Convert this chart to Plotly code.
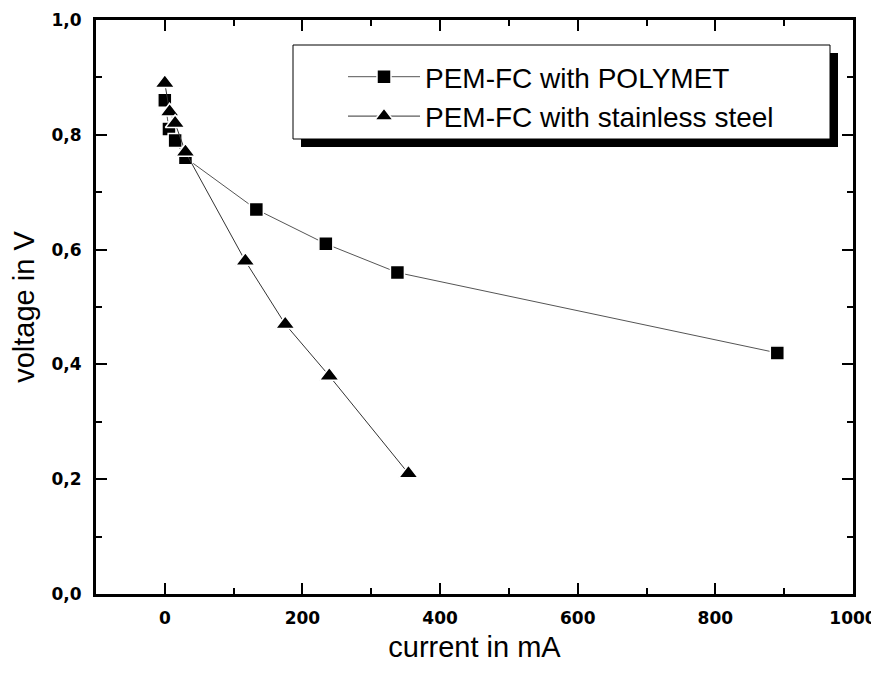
import plotly.graph_objects as go

# ---- data ----
polymet_current = [0, 6, 15, 30, 133, 234, 338, 890]
polymet_voltage = [0.86, 0.81, 0.79, 0.76, 0.67, 0.61, 0.56, 0.42]

steel_current = [0, 7, 15, 30, 117, 175, 239, 354]
steel_voltage = [0.89, 0.84, 0.82, 0.77, 0.58, 0.47, 0.38, 0.21]

series_names = ["PEM-FC with POLYMET", "PEM-FC with stainless steel"]

x_title = "current in mA"
y_title = "voltage in V"

# page has an 8px body margin, so the figure is drawn 8px right/down
OFF = 8
W, H = 879 - OFF, 676 - OFF
PL, PT, PR, PB = 96, 20, 853, 594          # target plot area on screen
ML, MT = PL - OFF, PT - OFF
MR, MB = W - (PR - OFF), H - (PB - OFF)
PW, PH = PR - PL, PB - PT

def px(x):
    return (x - PL) / PW

def py(y):
    return (PB - y) / PH

fig = go.Figure()
fig.add_trace(go.Scatter(
    x=polymet_current, y=polymet_voltage, name=series_names[0],
    mode="lines+markers", legendgroup="a",
    line=dict(color="#555555", width=1),
    marker=dict(symbol="square", size=14, color="black",
                line=dict(color="white", width=1.5)),
))
fig.add_trace(go.Scatter(
    x=steel_current, y=steel_voltage, name=series_names[1],
    mode="lines+markers", legendgroup="b",
    line=dict(color="#333333", width=1),
    marker=dict(symbol="triangle-up", size=17, color="black",
                line=dict(color="white", width=1.5)),
))

tickfont = dict(family="DejaVu Sans, Liberation Sans, Arial", size=17, color="black", weight=700)
titlefont = dict(family="Liberation Sans, Arial", size=29, color="black")
axis_common = dict(
    showline=True, linewidth=3, linecolor="black", mirror="allticks",
    ticks="inside", ticklen=11, tickwidth=2, tickcolor="black",
    showgrid=False, zeroline=False, tickfont=tickfont, automargin=False,
)

fig.update_xaxes(
    range=[-100, 1000], tick0=0, dtick=200,
    minor=dict(dtick=100, tick0=0, ticks="inside", ticklen=6, tickwidth=2,
               tickcolor="black", showgrid=False),
    ticklabelstandoff=7,
    title=dict(text=x_title, standoff=10, font=titlefont),
    **axis_common,
)
fig.update_yaxes(
    range=[0, 1.0], tick0=0, dtick=0.2, tickformat=".1f",
    minor=dict(dtick=0.1, tick0=0, ticks="inside", ticklen=6, tickwidth=2,
               tickcolor="black", showgrid=False),
    ticklabelstandoff=8,
    title=dict(text=y_title, standoff=11, font=titlefont),
    **axis_common,
)

# legend box with drop shadow
bx0, bx1, by0, by1 = 293, 830, 45, 139
sh = 8
fig.add_shape(type="rect", xref="paper", yref="paper",
              x0=px(bx0 + sh), x1=px(bx1 + sh), y0=py(by1 + sh), y1=py(by0 + sh),
              fillcolor="black", line=dict(width=0), layer="above")
fig.add_shape(type="rect", xref="paper", yref="paper",
              x0=px(bx0), x1=px(bx1), y0=py(by1), y1=py(by0),
              fillcolor="white", line=dict(color="black", width=1), layer="above")

fig.update_layout(
    width=W, height=H,
    margin=dict(l=ML, r=MR, t=MT, b=MB, pad=0),
    plot_bgcolor="white", paper_bgcolor="white",
    separators=",.",
    font=dict(family="Liberation Sans, Arial", color="black"),
    showlegend=True,
    legend=dict(
        x=px(343), y=py(52), xanchor="left", yanchor="top",
        bgcolor="rgba(0,0,0,0)", borderwidth=0,
        font=dict(family="Liberation Sans, Arial", size=28, color="black"),
        itemwidth=72, tracegroupgap=0,
    ),
)

fig.write_html("out.html")
